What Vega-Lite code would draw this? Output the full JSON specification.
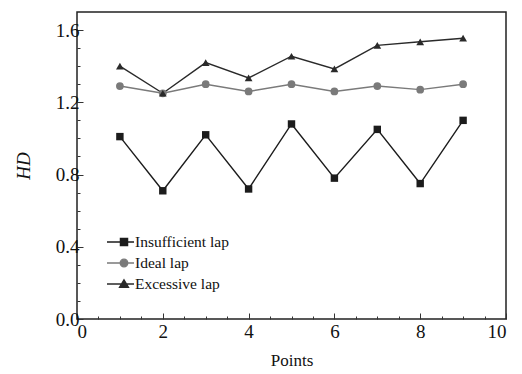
{
  "$schema": "https://vega.github.io/schema/vega-lite/v6.json",
  "width": 429,
  "height": 307,
  "autosize": "none",
  "padding": {"left": 77, "top": 12, "right": 16, "bottom": 55},
  "background": "white",
  "config": {
    "view": {"stroke": "#222", "strokeWidth": 1.5},
    "font": "Liberation Serif"
  },
  "data": {
    "values": [
      {"point": 1, "series": "Insufficient lap", "hd": 1.01},
      {"point": 2, "series": "Insufficient lap", "hd": 0.71},
      {"point": 3, "series": "Insufficient lap", "hd": 1.02},
      {"point": 4, "series": "Insufficient lap", "hd": 0.72},
      {"point": 5, "series": "Insufficient lap", "hd": 1.08},
      {"point": 6, "series": "Insufficient lap", "hd": 0.78},
      {"point": 7, "series": "Insufficient lap", "hd": 1.05},
      {"point": 8, "series": "Insufficient lap", "hd": 0.75},
      {"point": 9, "series": "Insufficient lap", "hd": 1.10},
      {"point": 1, "series": "Ideal lap", "hd": 1.29},
      {"point": 2, "series": "Ideal lap", "hd": 1.25},
      {"point": 3, "series": "Ideal lap", "hd": 1.30},
      {"point": 4, "series": "Ideal lap", "hd": 1.26},
      {"point": 5, "series": "Ideal lap", "hd": 1.30},
      {"point": 6, "series": "Ideal lap", "hd": 1.26},
      {"point": 7, "series": "Ideal lap", "hd": 1.29},
      {"point": 8, "series": "Ideal lap", "hd": 1.27},
      {"point": 9, "series": "Ideal lap", "hd": 1.30},
      {"point": 1, "series": "Excessive lap", "hd": 1.40},
      {"point": 2, "series": "Excessive lap", "hd": 1.25},
      {"point": 3, "series": "Excessive lap", "hd": 1.42},
      {"point": 4, "series": "Excessive lap", "hd": 1.335},
      {"point": 5, "series": "Excessive lap", "hd": 1.455},
      {"point": 6, "series": "Excessive lap", "hd": 1.385},
      {"point": 7, "series": "Excessive lap", "hd": 1.515},
      {"point": 8, "series": "Excessive lap", "hd": 1.535},
      {"point": 9, "series": "Excessive lap", "hd": 1.555}
    ]
  },
  "encoding": {
    "x": {
      "field": "point", "type": "quantitative",
      "scale": {"domain": [0, 10], "nice": false, "zero": false},
      "axis": {
        "title": "Points",
        "values": [0, 0.5, 1, 1.5, 2, 2.5, 3, 3.5, 4, 4.5, 5, 5.5, 6, 6.5, 7, 7.5, 8, 8.5, 9, 9.5, 10],
        "labelExpr": "datum.value % 2 === 0 ? format(datum.value, 'd') : ''",
        "grid": false,
        "domain": false,
        "tickColor": "#333",
        "tickSize": {"condition": {"test": "datum.value % 2 === 0", "value": -6}, "value": -3},
        "labelFontSize": 19,
        "labelColor": "#111",
        "labelPadding": 9,
        "titleFontSize": 17,
        "titleFontWeight": "normal",
        "titleColor": "#111",
        "titlePadding": 11
      }
    },
    "y": {
      "field": "hd", "type": "quantitative",
      "scale": {"domain": [0, 1.7], "nice": false},
      "axis": {
        "title": "HD",
        "values": [0, 0.1, 0.2, 0.3, 0.4, 0.5, 0.6, 0.7, 0.8, 0.9, 1.0, 1.1, 1.2, 1.3, 1.4, 1.5, 1.6],
        "labelExpr": "round(datum.value*10) % 4 === 0 ? format(datum.value, '.1f') : ''",
        "grid": false,
        "domain": false,
        "tickColor": "#333",
        "tickSize": {"condition": {"test": "round(datum.value*10) % 4 === 0", "value": -6}, "value": -3},
        "labelFontSize": 19,
        "labelColor": "#111",
        "labelPadding": 4,
        "titleFontSize": 19,
        "titleFontStyle": "italic",
        "titleFontWeight": "normal",
        "titleColor": "#111",
        "titlePadding": 22
      }
    },
    "color": {
      "field": "series", "type": "nominal",
      "scale": {"domain": ["Insufficient lap", "Ideal lap", "Excessive lap"], "range": ["#1c1c1c", "#7a7a7a", "#2a2a2a"]},
      "legend": {
        "orient": "none",
        "legendX": 36,
        "legendY": 219,
        "title": null,
        "labelFontSize": 15.5,
        "labelColor": "#111",
        "labelOffset": 0,
        "rowPadding": 1,
        "symbolSize": 400,
        "symbolStrokeWidth": 1.3,
        "encode": {
          "symbols": {
            "update": {
              "shape": {"signal": "datum.value === 'Insufficient lap' ? 'M-1.7,0H1.0M-0.36,-0.36H0.36V0.36H-0.36Z' : datum.value === 'Ideal lap' ? 'M-1.7,0H1.0M0.38,0A0.38,0.38,0,1,1,-0.38,0A0.38,0.38,0,1,1,0.38,0Z' : 'M-1.7,0H1.0M0,-0.42L0.45,0.33H-0.45Z'"},
              "fill": {"signal": "datum.value === 'Ideal lap' ? '#777' : '#1c1c1c'"},
              "stroke": {"signal": "datum.value === 'Ideal lap' ? '#888' : '#333'"}
            }
          }
        }
      }
    }
  },
  "layer": [
    {
      "mark": {"type": "line", "strokeWidth": 1.4},
      "encoding": {"detail": {"field": "series"}}
    },
    {
      "transform": [{"filter": "datum.series === 'Insufficient lap'"}],
      "mark": {"type": "point", "shape": "square", "filled": true, "opacity": 1, "size": 55}
    },
    {
      "transform": [{"filter": "datum.series === 'Ideal lap'"}],
      "mark": {"type": "point", "shape": "circle", "filled": true, "opacity": 1, "size": 60}
    },
    {
      "transform": [{"filter": "datum.series === 'Excessive lap'"}],
      "mark": {"type": "point", "shape": "triangle-up", "filled": true, "opacity": 1, "size": 60}
    }
  ]
}
